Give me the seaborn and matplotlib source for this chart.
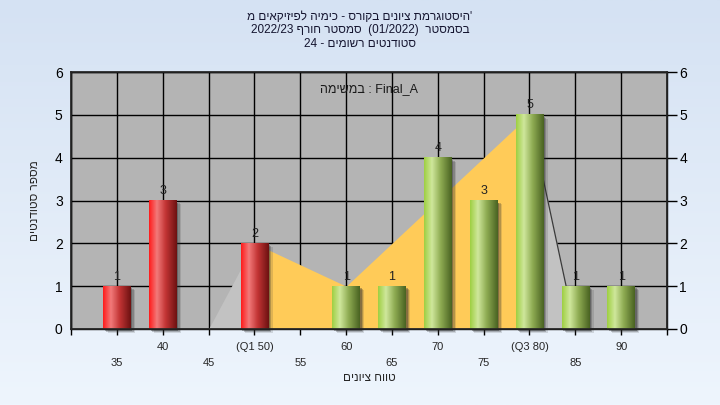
import re
import numpy as np
import pandas as pd
import matplotlib
matplotlib.use("Agg")
import matplotlib.pyplot as plt
import seaborn as sns
from matplotlib.colors import LinearSegmentedColormap
from matplotlib.patches import Rectangle

# histogram data
grades = [35, 40, 45, 50, 55, 60, 65, 70, 75, 80, 85, 90]
counts = [1, 3, 0, 2, 0, 1, 1, 4, 3, 5, 1, 1]
tick_names = ["35", "40", "45", "(Q1 50)", "55", "60", "65", "70", "75", "(Q3 80)", "85", "90"]
q1 = 50

# shaded areas behind the bars
iqr_grades = [50, 60, 80]
iqr_values = [2, 1, 5]
low_grades = [35, 40, 45, 50]
low_values = [0, 0, 0, 2]
high_grades = [80, 85, 90]
high_values = [5, 0, 0]

title_lines = ["'היסטוגרמת ציונים בקורס - כימיה לפיזיקאים מ",
               "בסמסטר  (01/2022)  סמסטר חורף 2022/23",
               "סטודנטים רשומים - 24"]
task_text = "Final_A : במשימה"
x_title = "טווח ציונים"
y_title = "מספר סטודנטים"


def rtl(s):
    # matplotlib has no bidi: put hebrew in visual order, keep latin/digit runs
    s = s[::-1]
    s = re.sub(r"[0-9A-Za-z_/.]+", lambda m: m.group(0)[::-1], s)
    return s.translate(str.maketrans("()", ")("))


sns.set_theme(style="ticks")
plt.rcParams["font.family"] = ["Liberation Sans", "DejaVu Sans"]

fig = plt.figure(figsize=(7.2, 4.05), dpi=100)

# light blue background gradient
bg = fig.add_axes([0, 0, 1, 1], zorder=-5)
bg_cmap = LinearSegmentedColormap.from_list("bg", ["#d5e2f3", "#eef5fd"])
bg.imshow(np.linspace(0, 1, 200).reshape(-1, 1), cmap=bg_cmap, aspect="auto", extent=[0, 1, 0, 1])
bg.axis("off")

ax = fig.add_axes([71 / 720, 76 / 405, 596 / 720, 257 / 405])
ax.set_facecolor("#b4b4b4")

df = pd.DataFrame({"grade": [str(g) for g in grades], "count": counts})
sns.barplot(data=df, x="grade", y="count", order=[str(g) for g in grades],
            width=0.6, color="red", ax=ax, zorder=3)

pos = {g: i for i, g in enumerate(grades)}

# areas
ax.fill_between([pos[g] for g in low_grades], low_values, color="#c2c2c2", lw=0, zorder=1)
ax.fill_between([pos[g] for g in high_grades], high_values, color="#c2c2c2", lw=0, zorder=1)
ax.plot([pos[g] for g in high_grades], high_values, color="#3a3a3a", lw=0.9, zorder=1.5)
ax.fill_between([pos[g] for g in iqr_grades], iqr_values, color="#ffcb58", lw=0, zorder=2)

red_cmap = LinearSegmentedColormap.from_list(
    "red", [(0, "#ff1c1c"), (0.28, "#f27a7a"), (0.6, "#c23434"), (1, "#6e1212")])
green_cmap = LinearSegmentedColormap.from_list(
    "green", [(0, "#9fd043"), (0.28, "#cfe79c"), (0.6, "#8eab52"), (1, "#4a6322")])
grad = np.linspace(0, 1, 64).reshape(1, -1)

for p, g, c in zip(ax.patches, grades, counts):
    p.set_visible(False)
    if c == 0:
        continue
    x0, w = p.get_x(), p.get_width()
    # soft shadow
    for k, a in enumerate([0.35, 0.25, 0.15]):
        ax.add_patch(Rectangle((x0 + 0.04 + 0.03 * k, -0.05 - 0.02 * k), w, c,
                               color="#303030", alpha=a, lw=0, zorder=2.5, clip_on=False))
    cmap = red_cmap if g <= q1 else green_cmap
    ax.imshow(grad, cmap=cmap, aspect="auto", extent=[x0, x0 + w, 0, c], zorder=3)
    ax.text(pos[g], c + 0.08, str(c), ha="center", va="bottom", fontsize=9, color="#222222", zorder=4)

ax.set_xlim(-1, 12)
ax.set_ylim(0, 6)
ax.set_yticks(range(0, 7))
ax.set_xticks(range(-1, 13))
ax.set_xticklabels([""] + tick_names + [""], fontsize=8)
ax.grid(True, color="black", lw=1, zorder=0.5)
ax.set_axisbelow(True)
for s in ax.spines.values():
    s.set_color("black")
    s.set_linewidth(1)
ax.tick_params(axis="y", length=0, pad=6, labelsize=10, colors="black")
ax.tick_params(axis="x", length=4, width=1, color="black", direction="out")
ax.set_xlabel(rtl(x_title), fontsize=8.5, labelpad=3)
ax.set_ylabel(rtl(y_title), fontsize=8.5, labelpad=10)

for i, tick in enumerate(ax.xaxis.get_major_ticks()):
    tick.set_pad(17 if (i - 1) % 2 == 0 else 5)

ax2 = ax.twinx()
ax2.set_ylim(0, 6)
ax2.set_yticks(range(0, 7))
ax2.tick_params(axis="y", length=7, width=1, direction="out", pad=2, labelsize=10, colors="black")
ax2.grid(False)

ax.text(0.5, 0.955, rtl(task_text), transform=ax.transAxes, ha="center", va="top", fontsize=9, color="#1a1a1a")

for k, line in enumerate(title_lines):
    fig.text(0.5, 1 - (17 + 13.5 * k) / 405, rtl(line), ha="center", va="center", fontsize=8.5, color="#151530")

fig.savefig("out.png", dpi=100)
